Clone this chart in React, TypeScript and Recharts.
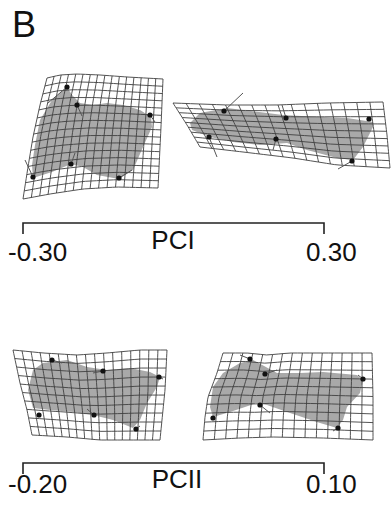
import React from 'react';
import { ScatterChart, Scatter, XAxis, YAxis } from 'recharts';

type Pt = { x: number; y: number };

// ---- PCI, negative end (top left)
const p1Top: Pt[] = [{ x: 47, y: 78 }, { x: 60, y: 75 }, { x: 77, y: 74 }, { x: 100, y: 75 }, { x: 127, y: 77 }, { x: 163, y: 79 }];
const p1Right: Pt[] = [{ x: 163, y: 79 }, { x: 161, y: 127 }, { x: 158, y: 188 }];
const p1Bottom: Pt[] = [{ x: 23, y: 199 }, { x: 50, y: 194 }, { x: 83, y: 189 }, { x: 117, y: 187 }, { x: 158, y: 188 }];
const p1Left: Pt[] = [{ x: 47, y: 78 }, { x: 40, y: 105 }, { x: 33, y: 137 }, { x: 28, y: 167 }, { x: 23, y: 199 }];
const p1Outline: Pt[] = [
  { x: 67, y: 87 }, { x: 52, y: 100 }, { x: 40, y: 120 }, { x: 35, y: 145 }, { x: 32, y: 165 }, { x: 33, y: 178 },
  { x: 52, y: 172 }, { x: 71, y: 164 }, { x: 83, y: 167 }, { x: 97, y: 175 }, { x: 119, y: 179 }, { x: 133, y: 170 },
  { x: 143, y: 147 }, { x: 152, y: 127 }, { x: 151, y: 117 }, { x: 140, y: 110 }, { x: 123, y: 105 }, { x: 107, y: 103 },
  { x: 93, y: 105 }, { x: 80, y: 103 }, { x: 72, y: 95 },
];
const p1Marks: Pt[] = [{ x: 67, y: 87 }, { x: 77, y: 105 }, { x: 150, y: 115 }, { x: 33, y: 177 }, { x: 71, y: 164 }, { x: 119, y: 178 }];
const p1Shift: Pt[] = [{ x: 48, y: 103 }, { x: 82, y: 116 }, { x: 155, y: 122 }, { x: 25, y: 160 }, { x: 75, y: 153 }, { x: 132, y: 170 }];

// ---- PCI, positive end (top right)
const p2Top: Pt[] = [{ x: 173, y: 103 }, { x: 227, y: 105 }, { x: 277, y: 105 }, { x: 327, y: 103 }, { x: 383, y: 102 }];
const p2Right: Pt[] = [{ x: 383, y: 102 }, { x: 387, y: 135 }, { x: 390, y: 168 }];
const p2Bottom: Pt[] = [{ x: 200, y: 147 }, { x: 243, y: 152 }, { x: 293, y: 158 }, { x: 337, y: 165 }, { x: 390, y: 168 }];
const p2Left: Pt[] = [{ x: 173, y: 103 }, { x: 187, y: 125 }, { x: 200, y: 147 }];
const p2Outline: Pt[] = [
  { x: 190, y: 123 }, { x: 200, y: 113 }, { x: 227, y: 108 }, { x: 283, y: 115 }, { x: 320, y: 117 }, { x: 347, y: 118 },
  { x: 373, y: 122 }, { x: 373, y: 127 }, { x: 363, y: 147 }, { x: 353, y: 160 }, { x: 337, y: 158 }, { x: 307, y: 150 },
  { x: 287, y: 143 }, { x: 260, y: 145 }, { x: 233, y: 142 }, { x: 210, y: 137 }, { x: 192, y: 130 },
];
const p2Marks: Pt[] = [{ x: 224, y: 111 }, { x: 286, y: 118 }, { x: 369, y: 119 }, { x: 209, y: 137 }, { x: 276, y: 139 }, { x: 352, y: 161 }];
const p2Shift: Pt[] = [{ x: 243, y: 93 }, { x: 282, y: 105 }, { x: 367, y: 116 }, { x: 217, y: 157 }, { x: 273, y: 150 }, { x: 338, y: 169 }];

// ---- PCII, negative end (bottom left)
const p3Top: Pt[] = [{ x: 13, y: 350 }, { x: 43, y: 353 }, { x: 77, y: 355 }, { x: 107, y: 353 }, { x: 140, y: 350 }, { x: 167, y: 350 }];
const p3Right: Pt[] = [{ x: 167, y: 350 }, { x: 165, y: 390 }, { x: 160, y: 440 }];
const p3Bottom: Pt[] = [{ x: 32, y: 435 }, { x: 67, y: 437 }, { x: 100, y: 440 }, { x: 133, y: 440 }, { x: 160, y: 440 }];
const p3Left: Pt[] = [{ x: 13, y: 350 }, { x: 20, y: 383 }, { x: 27, y: 410 }, { x: 32, y: 435 }];
const p3Outline: Pt[] = [
  { x: 33, y: 370 }, { x: 43, y: 363 }, { x: 67, y: 360 }, { x: 87, y: 367 }, { x: 107, y: 370 }, { x: 130, y: 368 },
  { x: 150, y: 372 }, { x: 160, y: 377 }, { x: 157, y: 387 }, { x: 147, y: 403 }, { x: 140, y: 420 }, { x: 133, y: 428 },
  { x: 113, y: 420 }, { x: 93, y: 415 }, { x: 73, y: 412 }, { x: 50, y: 410 }, { x: 33, y: 408 }, { x: 28, y: 390 },
];
const p3Marks: Pt[] = [{ x: 52, y: 360 }, { x: 103, y: 371 }, { x: 159, y: 377 }, { x: 39, y: 415 }, { x: 94, y: 415 }, { x: 136, y: 429 }];
const p3Shift: Pt[] = [{ x: 62, y: 363 }, { x: 93, y: 373 }, { x: 163, y: 379 }, { x: 39, y: 415 }, { x: 87, y: 409 }, { x: 140, y: 426 }];

// ---- PCII, positive end (bottom right)
const p4Top: Pt[] = [{ x: 223, y: 353 }, { x: 247, y: 353 }, { x: 267, y: 355 }, { x: 290, y: 353 }, { x: 323, y: 353 }, { x: 372, y: 353 }];
const p4Right: Pt[] = [{ x: 372, y: 353 }, { x: 373, y: 397 }, { x: 373, y: 440 }];
const p4Bottom: Pt[] = [{ x: 203, y: 440 }, { x: 240, y: 438 }, { x: 273, y: 437 }, { x: 323, y: 438 }, { x: 373, y: 440 }];
const p4Left: Pt[] = [{ x: 223, y: 353 }, { x: 217, y: 373 }, { x: 208, y: 397 }, { x: 205, y: 417 }, { x: 203, y: 440 }];
const p4Outline: Pt[] = [
  { x: 213, y: 387 }, { x: 223, y: 373 }, { x: 240, y: 363 }, { x: 253, y: 360 }, { x: 277, y: 373 }, { x: 300, y: 373 },
  { x: 323, y: 372 }, { x: 357, y: 375 }, { x: 363, y: 380 }, { x: 360, y: 393 }, { x: 347, y: 407 }, { x: 343, y: 420 },
  { x: 337, y: 428 }, { x: 320, y: 423 }, { x: 290, y: 413 }, { x: 267, y: 405 }, { x: 257, y: 403 }, { x: 230, y: 412 },
  { x: 213, y: 417 }, { x: 210, y: 407 },
];
const p4Marks: Pt[] = [{ x: 250, y: 359 }, { x: 265, y: 374 }, { x: 363, y: 379 }, { x: 213, y: 418 }, { x: 260, y: 405 }, { x: 338, y: 428 }];
const p4Shift: Pt[] = [{ x: 240, y: 355 }, { x: 277, y: 370 }, { x: 358, y: 375 }, { x: 213, y: 418 }, { x: 270, y: 413 }, { x: 333, y: 431 }];

// scale bars
const panelLetter = 'B';
const axisNames = ['PCI', 'PCII'];
const pc1Ticks = ['-0.30', '0.30'];
const pc2Ticks = ['-0.20', '0.10'];

const FONT = '"Liberation Sans", Arial, Helvetica, sans-serif';
const W = 392;
const H = 506;

const along = (pts: Pt[], t: number): Pt => {
  const seg = pts.slice(1).map((p, i) => Math.hypot(p.x - pts[i].x, p.y - pts[i].y));
  const total = seg.reduce((a, b) => a + b, 0);
  let d = t * total;
  for (let i = 0; i < seg.length; i++) {
    if (d <= seg[i] || i === seg.length - 1) {
      const f = seg[i] ? Math.min(1, d / seg[i]) : 0;
      return { x: pts[i].x + (pts[i + 1].x - pts[i].x) * f, y: pts[i].y + (pts[i + 1].y - pts[i].y) * f };
    }
    d -= seg[i];
  }
  return pts[pts.length - 1];
};

// Coons patch through the four outer edges of a deformation grid
const gridLines = (top: Pt[], right: Pt[], bottom: Pt[], left: Pt[], cols: number, rows: number) => {
  const c00 = top[0], c10 = top[top.length - 1], c01 = bottom[0], c11 = bottom[bottom.length - 1];
  const at = (u: number, v: number): Pt => {
    const t = along(top, u), b = along(bottom, u), l = along(left, v), r = along(right, v);
    const k = (a: number, bb: number, c: number, dd: number) =>
      (1 - u) * (1 - v) * a + u * (1 - v) * bb + (1 - u) * v * c + u * v * dd;
    return {
      x: (1 - v) * t.x + v * b.x + (1 - u) * l.x + u * r.x - k(c00.x, c10.x, c01.x, c11.x),
      y: (1 - v) * t.y + v * b.y + (1 - u) * l.y + u * r.y - k(c00.y, c10.y, c01.y, c11.y),
    };
  };
  const lines: Pt[][] = [];
  const steps = 24;
  for (let i = 0; i <= cols; i++) {
    const line: Pt[] = [];
    for (let s = 0; s <= steps; s++) line.push(at(i / cols, s / steps));
    lines.push(line);
  }
  for (let j = 0; j <= rows; j++) {
    const line: Pt[] = [];
    for (let s = 0; s <= steps; s++) line.push(at(s / steps, j / rows));
    lines.push(line);
  }
  return lines;
};

const panels = [
  { outline: p1Outline, marks: p1Marks, shift: p1Shift, lines: gridLines(p1Top, p1Right, p1Bottom, p1Left, 16, 15) },
  { outline: p2Outline, marks: p2Marks, shift: p2Shift, lines: gridLines(p2Top, p2Right, p2Bottom, p2Left, 16, 9) },
  { outline: p3Outline, marks: p3Marks, shift: p3Shift, lines: gridLines(p3Top, p3Right, p3Bottom, p3Left, 17, 10) },
  { outline: p4Outline, marks: p4Marks, shift: p4Shift, lines: gridLines(p4Top, p4Right, p4Bottom, p4Left, 15, 10) },
];

const bars: Pt[][] = [
  [{ x: 23, y: 234 }, { x: 23, y: 223 }, { x: 324, y: 223 }, { x: 324, y: 234 }],
  [{ x: 23, y: 474 }, { x: 23, y: 463 }, { x: 324, y: 463 }, { x: 324, y: 474 }],
];

const labels = [
  { x: 12, y: 37, text: panelLetter, size: 36, anchor: 'start' },
  { x: 173, y: 249, text: axisNames[0], size: 26, anchor: 'middle' },
  { x: 8, y: 261, text: pc1Ticks[0], size: 26, anchor: 'start' },
  { x: 306, y: 261, text: pc1Ticks[1], size: 26, anchor: 'start' },
  { x: 177, y: 488, text: axisNames[1], size: 26, anchor: 'middle' },
  { x: 8, y: 493, text: pc2Ticks[0], size: 26, anchor: 'start' },
  { x: 306, y: 493, text: pc2Ticks[1], size: 26, anchor: 'start' },
];

const noDot = () => <g />;

const fillShape = (p: any) => {
  const pts: Pt[] = p.points || [];
  if (!pts.length) return <g />;
  const d = 'M' + pts.map((q) => `${q.x},${q.y}`).join('L') + 'Z';
  return <path d={d} fill="#a9a9a9" stroke="none" />;
};

export default function App() {
  return (
    <div style={{ position: 'absolute', left: 0, top: 0, width: W, height: H, background: '#fff' }}>
      <ScatterChart width={W} height={H} margin={{ top: 0, right: 0, bottom: 0, left: 0 }}>
        <XAxis type="number" dataKey="x" domain={[0, W]} hide allowDataOverflow />
        <YAxis type="number" dataKey="y" domain={[0, H]} reversed hide allowDataOverflow />

        {panels.map((p, i) => (
          <Scatter key={`fill${i}`} data={p.outline} line={fillShape} shape={noDot} isAnimationActive={false} />
        ))}

        {panels.flatMap((p, i) =>
          p.lines.map((l, j) => (
            <Scatter
              key={`g${i}-${j}`}
              data={l}
              line={{ stroke: '#404040', strokeWidth: 0.9 }}
              shape={noDot}
              isAnimationActive={false}
            />
          ))
        )}

        {panels.flatMap((p, i) =>
          p.marks.map((m, j) => (
            <Scatter
              key={`a${i}-${j}`}
              data={[m, p.shift[j]]}
              line={{ stroke: '#555', strokeWidth: 1 }}
              shape={noDot}
              isAnimationActive={false}
            />
          ))
        )}

        {panels.map((p, i) => (
          <Scatter
            key={`m${i}`}
            data={p.marks}
            shape={(s: any) => <circle cx={s.cx} cy={s.cy} r={2.6} fill="#111" />}
            isAnimationActive={false}
          />
        ))}

        {bars.map((b, i) => (
          <Scatter key={`bar${i}`} data={b} line={{ stroke: '#222', strokeWidth: 1.6 }} shape={noDot} isAnimationActive={false} />
        ))}

        {labels.map((t, i) => (
          <Scatter
            key={`t${i}`}
            data={[{ x: t.x, y: t.y }]}
            shape={(s: any) => (
              <text x={s.cx} y={s.cy} fontFamily={FONT} fontSize={t.size} textAnchor={t.anchor} fill="#111">
                {t.text}
              </text>
            )}
            isAnimationActive={false}
          />
        ))}
      </ScatterChart>
    </div>
  );
}
